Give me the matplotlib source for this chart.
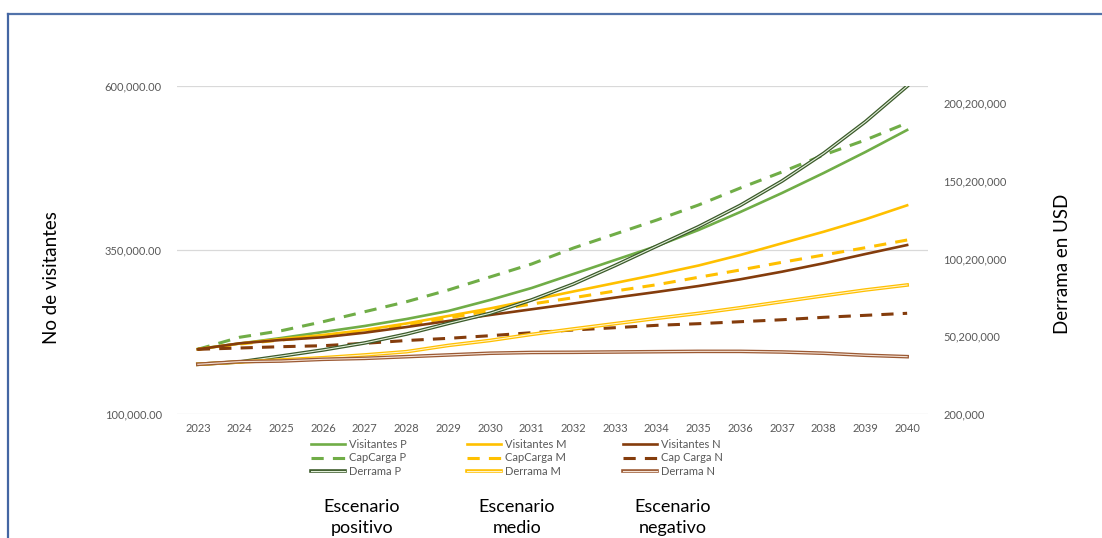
import matplotlib
matplotlib.use('Agg')
import matplotlib.pyplot as plt
import matplotlib.patheffects as pe
from matplotlib.lines import Line2D
from matplotlib.ticker import FuncFormatter

plt.rcParams['font.family'] = ['Lato', 'DejaVu Sans']

# ---- datos ----
anios = list(range(2023, 2041))

visitantes_p = [199400, 207700, 216100, 225200, 234400, 245000, 257200, 273900, 292200,
                313500, 334800, 356100, 380400, 407800, 436700, 467200, 499100, 532600]
capcarga_p = [198900, 217200, 227200, 240900, 256100, 271300, 289100, 308900, 328700,
              353000, 374300, 395600, 418500, 444300, 468700, 494600, 517400, 543300]
visitantes_m = [198900, 207700, 214600, 220700, 228300, 238200, 249600, 261000, 273900,
                286900, 299800, 312700, 326400, 342400, 360200, 377800, 396700, 418000]
capcarga_m = [198900, 207000, 213100, 219100, 226700, 235900, 246500, 257600, 267800,
              277400, 287600, 297200, 308500, 319600, 331300, 342400, 353500, 365200]
visitantes_n = [198900, 208000, 213100, 217200, 224200, 232800, 242000, 251100, 259800,
                268600, 277600, 286200, 295200, 305400, 317000, 329800, 343900, 357600]
capcarga_n = [198900, 200900, 202900, 204400, 208000, 212300, 215600, 219600, 224200,
              228300, 231800, 235400, 237900, 240900, 243900, 247600, 250600, 253700]

# derrama en USD (eje secundario)
derrama_p = [32.3e6, 33.8e6, 37.6e6, 41.5e6, 46.0e6, 51.7e6, 58.5e6, 65.0e6, 73.6e6,
             83.8e6, 95.7e6, 108.2e6, 120.6e6, 134.3e6, 149.9e6, 167.7e6, 188.0e6, 210.8e6]
derrama_m = [32.3e6, 33.8e6, 35.1e6, 36.5e6, 38.3e6, 40.4e6, 44.4e6, 47.6e6, 51.5e6,
             55.0e6, 58.4e6, 61.8e6, 65.0e6, 68.6e6, 72.5e6, 76.3e6, 80.0e6, 83.2e6]
derrama_n = [32.3e6, 34.0e6, 34.4e6, 35.5e6, 36.1e6, 37.2e6, 38.3e6, 39.4e6, 39.9e6,
             40.0e6, 40.2e6, 40.4e6, 40.6e6, 40.6e6, 40.2e6, 39.4e6, 38.1e6, 37.2e6]

ticks_izq = [100000, 350000, 600000]
ticks_der = [200000, 50200000, 100200000, 150200000, 200200000]

VERDE = '#70AD47'
AMARILLO = '#FFC000'
CAFE = '#843C0C'
GRIS = '#595959'

fig = plt.figure(figsize=(11.02, 5.38), dpi=100)

# marco exterior (borde azul)
fig.add_artist(Line2D([0.0073, 1.0], [0.974, 0.974], color='#5273AA', lw=1.6))
fig.add_artist(Line2D([0.0073, 0.0073], [0.0, 0.974], color='#4466A3', lw=1.6))

ax = fig.add_axes([0.1606, 0.2299, 0.6815, 0.6108])
ax2 = ax.twinx()

# --- eje principal: visitantes y capacidad de carga ---
l_vp, = ax.plot(anios, visitantes_p, color=VERDE, lw=1.9, label='Visitantes P')
l_cp, = ax.plot(anios, capcarga_p, color=VERDE, lw=2.2, ls=(0, (4, 3)), label='CapCarga P')
l_vm, = ax.plot(anios, visitantes_m, color=AMARILLO, lw=1.9, label='Visitantes M')
l_cm, = ax.plot(anios, capcarga_m, color=AMARILLO, lw=2.2, ls=(0, (4, 3)), label='CapCarga M')
l_vn, = ax.plot(anios, visitantes_n, color=CAFE, lw=1.9, label='Visitantes N')
l_cn, = ax.plot(anios, capcarga_n, color=CAFE, lw=2.2, ls=(0, (4, 3)), label='Cap Carga N')

# --- eje secundario: derrama (linea doble) ---
def linea_doble(x, y, exterior, interior, etiqueta):
    ln, = ax2.plot(x, y, color=interior, lw=0.8, label=etiqueta,
                   path_effects=[pe.Stroke(linewidth=2.6, foreground=exterior), pe.Normal()])
    return ln

l_dp = linea_doble(anios, derrama_p, '#3B5A2A', '#E2EFDA', 'Derrama P')
l_dm = linea_doble(anios, derrama_m, '#FFC000', '#FFF2CC', 'Derrama M')
l_dn = linea_doble(anios, derrama_n, '#9C5A34', '#F4E3D7', 'Derrama N')

ax.set_xlim(2022.5, 2040.5)
ax.set_ylim(100000, 600000)
ax.set_yticks(ticks_izq)
ax.set_xticks(anios)
ax.yaxis.set_major_formatter(FuncFormatter(lambda v, p: f'{v:,.2f}'))
ax.grid(axis='y', color='#D9D9D9', lw=0.9)
ax.set_axisbelow(True)

ax2.set_ylim(200000, 211100000)
ax2.set_yticks(ticks_der)
ax2.yaxis.set_major_formatter(FuncFormatter(lambda v, p: f'{v:,.0f}'))

for a in (ax, ax2):
    for s in a.spines.values():
        s.set_visible(False)
    a.tick_params(length=0, labelsize=8, labelcolor=GRIS)
ax.tick_params(axis='y', pad=11)
ax.tick_params(axis='x', pad=6)
ax2.tick_params(axis='y', pad=11)

fig.text(0.047, 0.485, 'No de visitantes', rotation=90, ha='center', va='center', fontsize=13.5)
fig.text(0.9646, 0.509, 'Derrama en USD', rotation=90, ha='center', va='center', fontsize=13.5)

# leyenda en tres columnas
columnas = [([l_vp, l_cp, l_dp], 0.2822), ([l_vm, l_cm, l_dm], 0.4238), ([l_vn, l_cn, l_dn], 0.5653)]
for handles, xpos in columnas:
    leg = fig.legend(handles=handles, loc='center left', bbox_to_anchor=(xpos, 0.1487),
                     frameon=False, fontsize=8, handlelength=3.1, handletextpad=0.3,
                     labelspacing=0.25, borderpad=0, borderaxespad=0)
    for t in leg.get_texts():
        t.set_color(GRIS)

escenarios = ['Escenario\npositivo', 'Escenario\nmedio', 'Escenario\nnegativo']
x_esc = [362, 517, 673]
for texto, xe in zip(escenarios, x_esc):
    fig.text(xe / 1102, 0.038, texto, ha='center', va='center', fontsize=13,
             linespacing=1.35, multialignment='center')

fig.savefig('out.png', dpi=100)
